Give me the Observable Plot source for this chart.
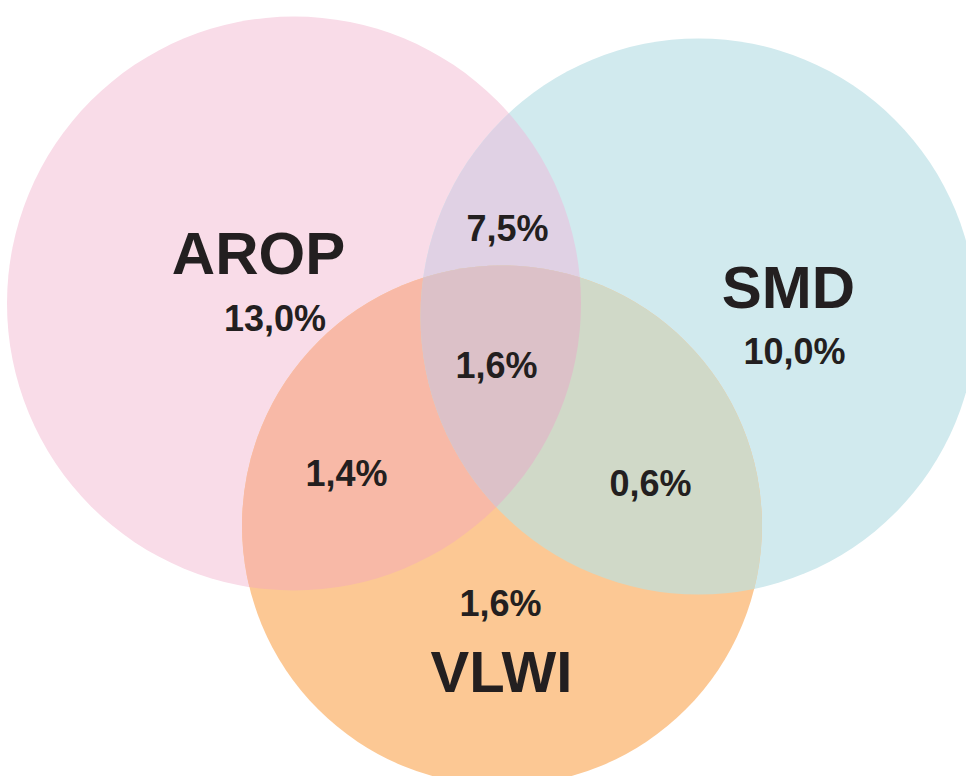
<!DOCTYPE html>
<html><head><meta charset="utf-8">
<script src="https://cdn.jsdelivr.net/npm/d3@7"></script>
<script src="https://cdn.jsdelivr.net/npm/@observablehq/plot@0.6"></script>
<style>html,body{margin:0;padding:0;background:#fff;overflow:hidden}</style>
</head><body><div id="chart"></div>
<script>
// ---- data ----
const sets = ["AROP", "SMD", "VLWI"];
const setOnlyShares = ["13,0%", "10,0%", "1,6%"];          // only AROP, only SMD, only VLWI
const pairShares = ["7,5%", "1,4%", "0,6%"];               // AROP∩SMD, AROP∩VLWI, SMD∩VLWI
const tripleShare = "1,6%";                                // AROP∩SMD∩VLWI

// ---- layout (pixels) ----
const circleX = [293.5, 698, 501.5];
const circleY = [303, 316, 525];
const circleR = [287, 278, 260];
const pairs = [[0, 1], [0, 2], [1, 2]];
const nameX = [258, 788, 501], nameY = [253.8, 287.8, 673.4], nameSize = [60, 60, 58];
const shareX = [274.5, 794, 500], shareY = [318.5, 351.5, 603.5];
const pairX = [507, 346, 650], pairY = [228.5, 473.5, 483.5];
const tripleX = 496, tripleY = 365.5;
const valueSize = 36;

// ---- styles ----
const setFill = ["#f9dce8", "#d1eaee", "#fcc894"];
const pairFill = ["#e0d1e4", "#f8b9a7", "#d0d9c8"];
const tripleFill = "#dcc1c8";
const ink = "#231f20";
const font = "Liberation Sans, Arial, Helvetica, sans-serif";

const circles = sets.map((name, i) => ({name, x: circleX[i], y: circleY[i], r: circleR[i], fill: setFill[i]}));
const pairCircles = pairs.map(([a, b], k) => ({...circles[b], fill: pairFill[k], clipA: a}));
const tripleCircle = [{...circles[2], fill: tripleFill}];

const labels = [
  ...sets.map((t, i) => ({t, x: nameX[i], y: nameY[i], s: nameSize[i]})),
  ...setOnlyShares.map((t, i) => ({t, x: shareX[i], y: shareY[i], s: valueSize})),
  ...pairShares.map((t, i) => ({t, x: pairX[i], y: pairY[i], s: valueSize})),
  {t: tripleShare, x: tripleX, y: tripleY, s: valueSize}
];

const W = 966, H = 776;
const marks = [
  Plot.dot(circles, {x: "x", y: "y", r: "r", fill: "fill", stroke: null, ariaDescription: "base"}),
  ...pairCircles.map((c, k) =>
    Plot.dot([c], {x: "x", y: "y", r: "r", fill: "fill", stroke: null, ariaDescription: "clip-" + c.clipA})),
  Plot.dot(tripleCircle, {x: "x", y: "y", r: "r", fill: "fill", stroke: null, ariaDescription: "triple"}),
  ...[...new Set(labels.map(d => d.s))].map(s =>
    Plot.text(labels.filter(d => d.s === s), {
      x: "x", y: "y", text: "t", fontSize: s, fontWeight: "bold", fontFamily: font,
      fill: ink, textAnchor: "middle", lineAnchor: "middle"
    }))
];

const svg = Plot.plot({
  width: W, height: H, margin: 0,
  x: {domain: [0, W], range: [0, W], axis: null},
  y: {domain: [0, H], range: [0, H], axis: null},
  r: {type: "identity"},
  color: {type: "identity"},
  style: {background: "#fff", overflow: "hidden"},
  marks
});

// build clip paths from the rendered base circles
const ns = "http://www.w3.org/2000/svg";
const defs = document.createElementNS(ns, "defs");
const base = svg.querySelector('g[aria-description="base"]');
const baseCircles = base ? [...base.querySelectorAll("circle")] : [];
baseCircles.forEach((c, i) => {
  const cp = document.createElementNS(ns, "clipPath");
  cp.setAttribute("id", "vclip" + i);
  const cl = c.cloneNode(false);
  cl.removeAttribute("fill");
  cp.appendChild(cl);
  defs.appendChild(cp);
});
svg.insertBefore(defs, svg.firstChild);
pairs.forEach(([a]) => {
  svg.querySelectorAll('g[aria-description="clip-' + a + '"]').forEach(g => g.setAttribute("clip-path", "url(#vclip" + a + ")"));
});
const tg = svg.querySelector('g[aria-description="triple"]');
if (tg) {
  tg.setAttribute("clip-path", "url(#vclip0)");
  tg.querySelectorAll("circle").forEach(c => c.setAttribute("clip-path", "url(#vclip1)"));
}
document.getElementById("chart").appendChild(svg);
</script>
</body></html>
